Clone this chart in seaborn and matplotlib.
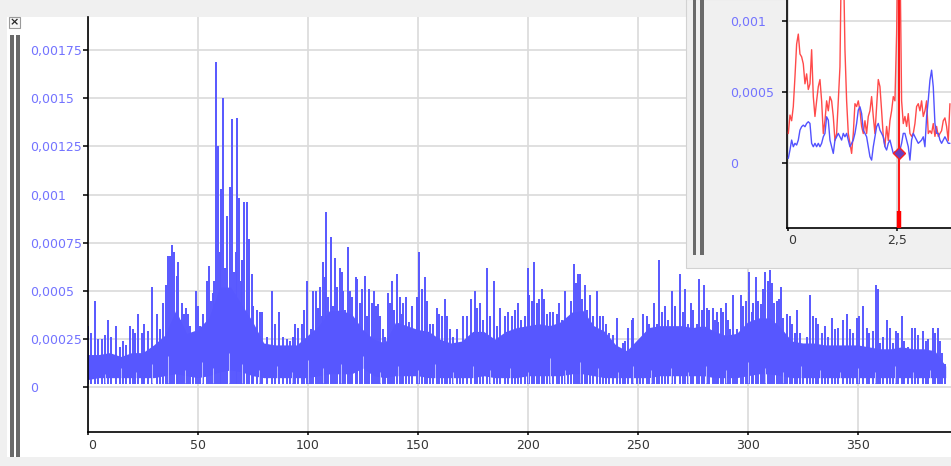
import numpy as np
import matplotlib
matplotlib.use('Agg')
import matplotlib.pyplot as plt
from matplotlib.patches import Rectangle
import seaborn as sns

SCALE = 1e-5  # all trace values below are in units of 1e-5

# main trace: solid body of the signal band, sampled every 5 units
body_x = list(range(0, 391, 5))
body_top = [17, 17, 18, 16, 18, 18, 22, 27, 40, 28,
            30, 36, 52, 52, 43, 34, 23, 22, 22, 22,
            27, 32, 40, 40, 38, 30, 25, 23, 34, 32,
            30, 29, 25, 23, 24, 29, 29, 25, 29, 31,
            32, 33, 32, 34, 39, 40, 32, 29, 22, 19,
            25, 31, 32, 32, 32, 31, 32, 29, 27, 28,
            34, 36, 36, 31, 24, 23, 23, 22, 22, 22,
            22, 21, 20, 20, 21, 20, 20, 19, 11]
body_floor = [4, 5, 5, 5, 5, 5, 5, 6, 7, 6,
              5, 6, 8, 9, 8, 6, 5, 5, 5, 5,
              5, 6, 7, 7, 7, 10, 6, 5, 6, 6,
              6, 5, 5, 5, 5, 5, 6, 5, 5, 5,
              6, 6, 6, 6, 7, 7, 6, 5, 5, 5,
              5, 5, 6, 6, 6, 6, 6, 5, 5, 5,
              6, 7, 7, 6, 5, 5, 5, 5, 5, 5,
              5, 5, 5, 5, 5, 5, 5, 5, 5]

# individual peaks sticking out of the band (x, value)
spike_pts = [
    (0, 32), (1.5, 28), (3.3, 45), (4.8, 25), (6.5, 25), (8, 27), (9, 35), (10.8, 26),
    (12.7, 32), (14.5, 21), (16, 24), (17.5, 22), (19, 32), (20.5, 30), (21.5, 28), (23, 38),
    (24.5, 28), (25.7, 33), (27.5, 29), (29.4, 52), (31.6, 38), (33, 30), (34.4, 44), (35.6, 53),
    (36.3, 68), (37.4, 68), (38.2, 74), (39.2, 70), (40.4, 58), (41.2, 65), (42, 35), (42.7, 44),
    (43.8, 38), (44.6, 41), (45.6, 38), (46.5, 32), (48, 28), (49.2, 50), (50.3, 42), (51, 32),
    (52.3, 38), (54, 55), (55, 63), (56, 45), (57, 49), (57.5, 55), (58.2, 169), (59.1, 125),
    (60, 70), (60.5, 103), (61.5, 150), (62.5, 62), (63.3, 89), (64.7, 104), (65.6, 139), (66.5, 60),
    (67.2, 70), (68, 140), (68.8, 98), (69.5, 55), (70.2, 66), (71, 96), (72.3, 96), (73.3, 77),
    (74.5, 59), (75.3, 42), (77, 40), (78.3, 39), (79.2, 39), (81.3, 26), (83.6, 50), (85, 33),
    (86.9, 39), (88.9, 26), (90.5, 25),
    (92, 24), (93.5, 26), (94.2, 33), (95.5, 31), (97.3, 33), (98.3, 40), (99.5, 55), (100.5, 26),
    (101.3, 30), (102.6, 50), (103.8, 50), (104.5, 41), (105.6, 52), (106.5, 37), (107.1, 65), (107.7, 57),
    (108.3, 91), (109.4, 47), (110.6, 78), (111.3, 42), (112.4, 67), (113.2, 52), (114.7, 62), (115.4, 60),
    (116.2, 50), (117, 40), (118.2, 73), (119.2, 50), (120.1, 47), (121.8, 57), (122.6, 56), (123.8, 44),
    (124.5, 51), (125.9, 58), (126.8, 37), (128, 51), (129.1, 44), (130.1, 50), (131, 42), (132.1, 43),
    (132.9, 37), (134.4, 30), (135.1, 26), (136.3, 49), (137.4, 44), (138.2, 55), (139.2, 40), (140.4, 59),
    (142, 47), (142.7, 38), (143.5, 44), (144.5, 47), (146, 34), (147.3, 42), (149.5, 47), (150.7, 70),
    (151.8, 51), (153.3, 57), (154.1, 45), (155.6, 33), (156.8, 33), (158.6, 41), (159.8, 38), (160.9, 37),
    (162.4, 46), (163.5, 37), (164.7, 30), (166.2, 26), (167.7, 30), (169.2, 23), (170.7, 37), (172.3, 37),
    (174.2, 46), (176, 50), (177.1, 41), (178.3, 44), (179.8, 35), (181.3, 62), (182.9, 37), (184.7, 55),
    (185.9, 32), (187.4, 41),
    (189.5, 37), (191.2, 39), (192.7, 37), (194.2, 40), (195.7, 44), (197, 35), (198.8, 37), (200, 62),
    (200.7, 48), (201.8, 45), (203, 65), (204.1, 44), (205.3, 46), (206.3, 51), (207.5, 46), (208.6, 38),
    (210.1, 39), (211.6, 39), (213.2, 38), (214.4, 44), (215.4, 35), (217, 50), (218.5, 36), (219.7, 45),
    (221, 64), (222, 54), (223, 59), (223.8, 59), (224.5, 46), (226, 53), (227.1, 40), (228.3, 48),
    (229.8, 37), (231.3, 50), (232.9, 37), (234.4, 37), (235.6, 33), (237.1, 28), (238.9, 27), (240.4, 36),
    (241.9, 20), (243.2, 23), (244.2, 24), (245.7, 31), (247.2, 35), (248, 36), (249.5, 19), (251, 23),
    (252.6, 38), (254.1, 37), (255.3, 33), (256.3, 31), (257.4, 44), (258.6, 33), (259.7, 66), (260.9, 39),
    (262.4, 42), (263.9, 35), (265.4, 50), (266.9, 42), (269.2, 59), (270.4, 39), (271.5, 51), (273, 33),
    (274.2, 44), (275.3, 40), (276.8, 33), (278, 56), (279, 40), (280.1, 53), (281.3, 41), (282.5, 40),
    (284.1, 41), (285.2, 35), (285.9, 39), (286.7, 34), (287.7, 41), (288.7, 39), (290.2, 44), (291.2, 35),
    (292, 30), (293.1, 48), (294.3, 20), (295.3, 30), (297, 48), (298, 42), (299, 45), (300, 31),
    (300.8, 60), (301.8, 39), (302.6, 44), (303.7, 57), (304.9, 45), (305.9, 43), (306.8, 51), (307.9, 60),
    (309, 55), (310.2, 61), (310.9, 54), (312.1, 44), (313.2, 45), (314, 46), (315, 52), (315.9, 36),
    (317, 25), (317.7, 38), (319, 37), (320, 33), (321.5, 28), (322.6, 40), (323.8, 28), (325.3, 21),
    (326.8, 26), (328.3, 48), (329.9, 37), (331.1, 36), (332.1, 33), (333.7, 28), (335.2, 32), (336.7, 26),
    (338.5, 36), (339.7, 30), (341.2, 31), (343.2, 35), (345, 38), (346.5, 30), (348, 28), (349.6, 36),
    (350.8, 37), (352.6, 42), (354.1, 31), (355.3, 28), (357.1, 29), (358.4, 53), (359.1, 51), (360.2, 23),
    (361.7, 26), (363.5, 35), (364.7, 31), (365.9, 23), (367.4, 29), (368.5, 28), (370, 37), (371.2, 24),
    (372.7, 21), (374.6, 31), (376.1, 31), (377.6, 27), (379.5, 29), (381.1, 24), (382.1, 25), (384.1, 31),
    (385.2, 28), (386.4, 31), (387.5, 24), (388.5, 18), (389.7, 12),
]

# low dips that show as white streaks in the bottom of the band (x, value)
dip_pts = [
    (8, 7), (15, 10), (22, 8), (29, 12), (36.6, 16), (44, 9), (52, 13), (57, 10), (64.3, 18),
    (70, 12), (78, 9), (86, 11), (93, 8), (100.3, 14), (107, 10), (115, 12), (125.2, 16),
    (133, 8), (141, 11), (150, 9), (158, 12), (166, 8), (175, 11), (183, 9), (192, 10),
    (200, 8), (210, 15), (217, 9), (223.8, 13), (232, 10), (241, 8), (248, 11), (256, 9),
    (265, 10), (273, 8), (281, 11), (290, 9), (300, 13), (308, 10), (316, 8), (324, 11),
    (333, 9), (342, 8), (350, 10), (358, 8), (367, 11), (375, 8), (383, 9),
]

main_xticks = [0, 50, 100, 150, 200, 250, 300, 350]
main_yticks = [0, 0.00025, 0.0005, 0.00075, 0.001, 0.00125, 0.0015, 0.00175]
main_ylabels = ['0', '0,00025', '0,0005', '0,00075', '0,001', '0,00125', '0,0015', '0,00175']

# inset: two traces sampled every 0.0382 units, same units of 1e-5
inset_step = 0.0382
red_vals = [21, 34, 30, 40, 61, 84, 91, 77, 75, 70,
            56, 63, 52, 56, 80, 47, 33, 44, 54, 59,
            44, 21, 30, 44, 37, 47, 44, 33, 16, 21,
            44, 68, 160, 150, 80, 44, 21, 14, 7, 21,
            42, 40, 44, 37, 26, 21, 30, 21, 33, 37,
            47, 33, 21, 40, 59, 54, 37, 19, 12, 26,
            16, 30, 37, 47, 44, 91, 170, 150, 44, 28,
            33, 26, 35, 21, 19, 21, 28, 40, 42, 37,
            44, 33, 37, 44, 21, 23, 21, 28, 19, 26,
            19, 21, 23, 30, 32, 26, 16, 42]
blue_vals = [3.5, 9.4, 16.4, 11.7, 14.1, 12.9, 16.4, 23.4, 25.8, 26.9,
             25.8, 28.1, 29.3, 28.1, 14.1, 11.7, 14.1, 11.7, 14.1, 11.7,
             14.1, 18.7, 21.1, 32.8, 30.4, 16.4, 11.7, 7.0, 16.4, 18.7,
             21.1, 18.7, 16.4, 21.1, 18.7, 21.1, 16.4, 11.7, 14.1, 16.4,
             21.1, 28.1, 37.5, 39.8, 35.1, 23.4, 21.1, 18.7, 11.7, 4.7,
             2.3, 11.7, 18.7, 25.8, 28.1, 23.4, 21.1, 18.7, 11.7, 9.4,
             14.1, 16.4, 11.7, 7.0, 8.2, 6.6, 7.0, 9.4, 14.1, 21.1,
             21.1, 16.4, 11.7, 2.3, 16.4, 21.1, 18.7, 16.4, 14.1, 15.2,
             16.4, 18.7, 11.7, 32.8, 44.5, 58.5, 65.6, 53.9, 28.1, 21.1,
             21.1, 16.4, 14.1, 16.4, 18.7, 16.4, 14.1, 14.1]
cursor_x = 2.535
cursor_val = 7.0
inset_xticks = [0, 2.5]
inset_xlabels = ['0', '2,5']
inset_yticks = [0, 0.0005, 0.001]
inset_ylabels = ['0', '0,0005', '0,001']

BLUE = '#5757ff'
LABEL_BLUE = '#7373ff'
GRID = '#dadada'
PANEL = '#f0f0f0'
BAR = '#6a6a6a'

sns.set_style('white')
plt.rcParams['font.family'] = ['DejaVu Sans']
plt.rcParams['font.size'] = 9

W, H = 951, 466


def px_box(x0, y0, x1, y1):
    # pixel box (top-left origin) -> figure fraction [left, bottom, width, height]
    return [x0 / W, 1 - y1 / H, (x1 - x0) / W, (y1 - y0) / H]


def add_rect(fig, x0, y0, x1, y1, z, **kw):
    l, b, w, h = px_box(x0, y0, x1, y1)
    fig.add_artist(Rectangle((l, b), w, h, transform=fig.transFigure, zorder=z, **kw))


fig = plt.figure(figsize=(W / 100, H / 100), dpi=100, facecolor=PANEL)

# window chrome of the main panel
add_rect(fig, 7, 17, 951, 457, -1, facecolor='white', edgecolor='none')
add_rect(fig, 10, 35, 13.5, 457, -0.5, facecolor=BAR, edgecolor='none')
add_rect(fig, 16, 35, 19.5, 457, -0.5, facecolor=BAR, edgecolor='none')
add_rect(fig, 9, 17, 20, 28, -0.5, facecolor='#f6f6f6', edgecolor='#9a9a9a', lw=0.8)
fig.text(14.5 / W, 1 - 22.5 / H, '×', ha='center', va='center', fontsize=8, fontweight='bold',
         zorder=-0.4)

# ---- main chart ----
ax = fig.add_axes(px_box(87.7, 17, 951, 432.3))
ax.set_facecolor('white')
ax.set_axisbelow(True)

ax.fill_between(body_x, np.array(body_floor) * SCALE, np.array(body_top) * SCALE,
                color=BLUE, lw=0, zorder=2)
spike_x, spike_y = zip(*spike_pts)
ax.vlines(spike_x, 1.5 * SCALE, np.array(spike_y) * SCALE, color=BLUE, lw=1.4, zorder=2)
dip_x, dip_y = zip(*dip_pts)
ax.vlines(dip_x, 2 * SCALE, np.array(dip_y) * SCALE, color='white', lw=0.6, alpha=0.7, zorder=3)

ax.set_xlim(0, (951 - 87.7) / 2.2)
ax.set_ylim(-0.0002335, 0.0019217)
ax.set_xticks(main_xticks)
ax.set_xticklabels([str(t) for t in main_xticks])
ax.set_yticks(main_yticks)
ax.set_yticklabels(main_ylabels)
ax.grid(True, color=GRID, lw=1.2)
for side in ['top', 'right']:
    ax.spines[side].set_visible(False)
for side in ['left', 'bottom']:
    ax.spines[side].set_color('black')
    ax.spines[side].set_linewidth(1.2)
ax.tick_params(axis='y', direction='out', length=3.3, width=1.1, color='black',
               labelcolor=LABEL_BLUE, labelsize=9, pad=38.3, left=True)
ax.tick_params(axis='x', direction='out', length=2.5, width=1.1, color='black',
               labelcolor='#363636', labelsize=9, pad=2, bottom=True)
for lab in ax.get_yticklabels():
    lab.set_horizontalalignment('left')
ax.get_xticklabels()[0].set_horizontalalignment('left')

# ---- inset panel in the top right corner ----
add_rect(fig, 686, -1, 952, 268, 1, facecolor=PANEL, edgecolor='#d2d2d2', lw=0.8)
add_rect(fig, 692.5, -1, 696, 255, 1.1, facecolor=BAR, edgecolor='none')
add_rect(fig, 700, -1, 703.5, 255, 1.1, facecolor=BAR, edgecolor='none')

axin = fig.add_axes(px_box(787.3, 0, 951, 227.7))
axin.set_zorder(2)
axin.set_facecolor('white')
axin.set_axisbelow(True)

inset_x = np.arange(len(red_vals)) * inset_step
sns.lineplot(x=inset_x, y=np.array(red_vals) * SCALE, ax=axin, color='#ff4a4a', lw=1.0, zorder=3)
sns.lineplot(x=inset_x, y=np.array(blue_vals) * SCALE, ax=axin, color='#5252ff', lw=1.0, zorder=4)
axin.axvline(cursor_x, color='#ff1a1a', lw=1.5, zorder=5)
axin.vlines([cursor_x], -0.000453, -0.000336, color='#ff0000', lw=3.2, zorder=5)
axin.plot([cursor_x], [cursor_val * SCALE], marker='D', ms=6, mfc='#6a40c0', mec='#ff2020',
          mew=1.0, zorder=6)

axin.set_xlim(-0.023, 3.73)
axin.set_ylim(-0.000453, 0.00115)
axin.set_xticks(inset_xticks)
axin.set_xticklabels(inset_xlabels)
axin.set_yticks(inset_yticks)
axin.set_yticklabels(inset_ylabels)
axin.set_xlabel('')
axin.set_ylabel('')
axin.grid(True, color=GRID, lw=1.2)
for side in ['top', 'right']:
    axin.spines[side].set_visible(False)
for side in ['left', 'bottom']:
    axin.spines[side].set_color('black')
    axin.spines[side].set_linewidth(1.2)
axin.tick_params(axis='y', direction='out', length=3.3, width=1.1, color='black',
                 labelcolor=LABEL_BLUE, labelsize=9, pad=38.0, left=True)
axin.tick_params(axis='x', direction='out', length=2.5, width=1.1, color='black',
                 labelcolor='#363636', labelsize=9, pad=2, bottom=True)
for lab in axin.get_yticklabels():
    lab.set_horizontalalignment('left')
axin.get_xticklabels()[0].set_horizontalalignment('left')

fig.savefig('out.png', dpi=100, facecolor=PANEL)
